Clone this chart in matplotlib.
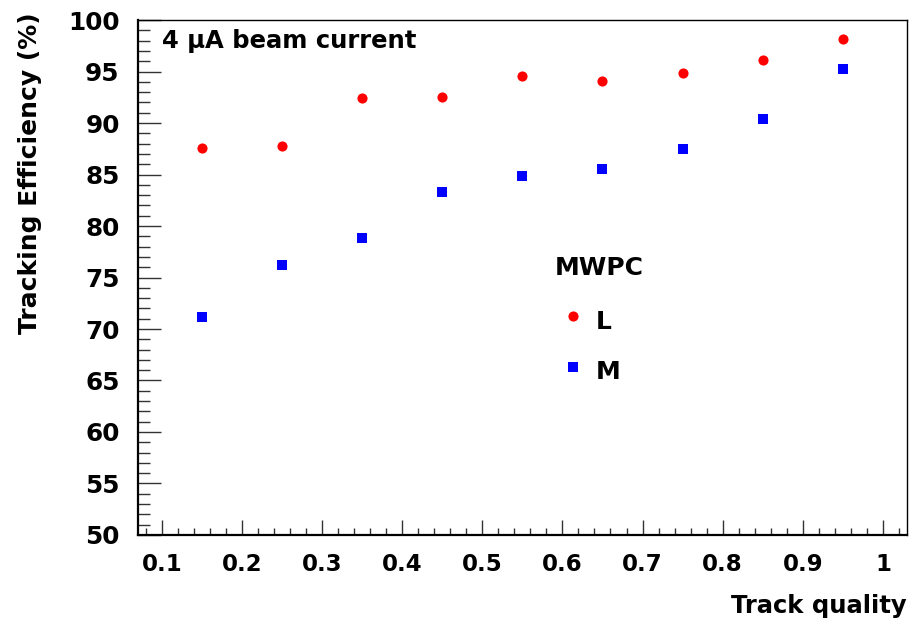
import numpy as np
import matplotlib
matplotlib.use('Agg')
import matplotlib.pyplot as plt
from matplotlib.ticker import MultipleLocator

plt.rcParams['font.family'] = ['DejaVu Sans']
plt.rcParams['font.weight'] = 'bold'

quality = [0.15, 0.25, 0.35, 0.45, 0.55, 0.65, 0.75, 0.85, 0.95]
eff_L = [87.6, 87.8, 92.4, 92.5, 94.6, 94.1, 94.9, 96.1, 98.2]
eff_M = [71.2, 76.2, 78.8, 83.35, 84.9, 85.5, 87.5, 90.4, 95.2]

fig = plt.figure(figsize=(9.12, 6.26), dpi=100)
ax = fig.add_axes([0.151, 0.1454, 0.8435, 0.8226])

ax.plot(quality, eff_L, 'o', color='#ff0000', markersize=7.3, markeredgewidth=0)
ax.plot(quality, eff_M, 's', color='#0000ff', markersize=7.0, markeredgewidth=0)

ax.set_xlim(0.07, 1.03)
ax.set_ylim(50, 100)
ax.xaxis.set_minor_locator(MultipleLocator(0.02))
ax.yaxis.set_major_locator(MultipleLocator(5))
ax.yaxis.set_minor_locator(MultipleLocator(1))
ax.set_xticks(np.arange(0.1, 1.01, 0.1))
ax.set_xticklabels(['0.1', '0.2', '0.3', '0.4', '0.5', '0.6', '0.7', '0.8', '0.9', '1'])

ax.tick_params(axis='both', which='both', direction='in', top=False, right=False,
               width=1.0, color='#333333')
ax.tick_params(axis='y', which='major', length=16.8, pad=13, labelsize=17.8)
ax.tick_params(axis='y', which='minor', length=8.4)
ax.tick_params(axis='x', which='major', length=10.8, pad=13, labelsize=16.5)
ax.tick_params(axis='x', which='minor', length=5.3)
for lab in ax.get_xticklabels() + ax.get_yticklabels():
    lab.set_fontweight('bold')

for sp in ax.spines.values():
    sp.set_linewidth(1.0)
ax.spines['left'].set_linewidth(1.6)
ax.spines['bottom'].set_linewidth(1.6)

fig.text(0.9945, 1 - 612.7 / 626, 'Track quality', ha='right', va='baseline',
         fontsize=17.5, fontweight='bold')
fig.text(0.033, 0.981, 'Tracking Efficiency (%)', ha='center', va='top',
         rotation=90, fontsize=18, fontweight='bold')

fig.text(161.7 / 912, 1 - 48 / 626, '4 \u03bcA beam current',
         ha='left', va='baseline', fontsize=17.5, fontweight='bold')

# legend
fig.text(555 / 912, 1 - 275 / 626, 'MWPC', ha='left', va='baseline',
         fontsize=18, fontweight='bold')
fig.text(596 / 912, 1 - 329 / 626, 'L', ha='left', va='baseline',
         fontsize=18, fontweight='bold')
fig.text(596 / 912, 1 - 379 / 626, 'M', ha='left', va='baseline',
         fontsize=18, fontweight='bold')
fig.lines.append(plt.Line2D([572.7 / 912], [1 - 315.7 / 626], marker='o', color='#ff0000',
                            markersize=7.3, markeredgewidth=0, linestyle='none',
                            transform=fig.transFigure))
fig.lines.append(plt.Line2D([572.7 / 912], [1 - 367 / 626], marker='s', color='#0000ff',
                            markersize=7.0, markeredgewidth=0, linestyle='none',
                            transform=fig.transFigure))

fig.savefig('out.png', dpi=100)
